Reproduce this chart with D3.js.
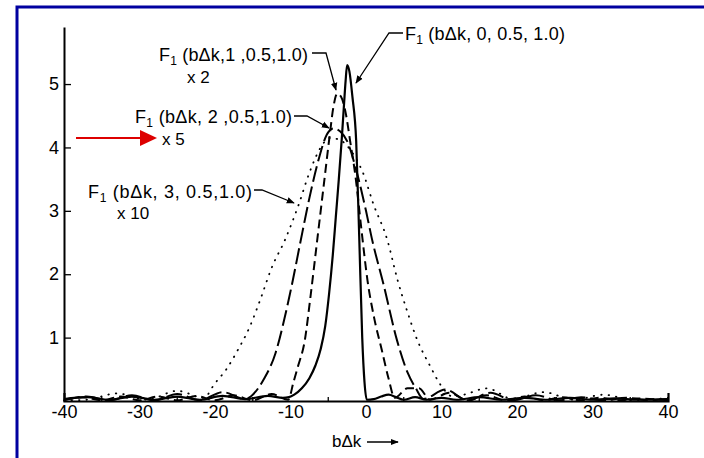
<!DOCTYPE html>
<html>
<head>
<meta charset="utf-8">
<script src="https://cdn.jsdelivr.net/npm/d3@7"></script>
<style>
	body { margin: 0; background: #fff; }
	svg { display: block; }
	text { font-family: "Liberation Sans", Arial, sans-serif; fill: #000; }
</style>
</head>
<body>
<svg width="704" height="458"></svg>
<script>
// F1(bdk, sigma, 0.5, 1.0), [bdk, value]
var sigma0 = [[-40,0.03],[-37,0.06],[-34,0.02],[-31,0.07],[-28,0.02],[-25,0.07],[-22,0.02],[-19,0.08],[-16,0.03],[-13,0.08],[-11,0.05],[-10.2,0.06],[-9.5,0.1],[-8.5,0.2],[-7.5,0.36],[-6.7,0.56],[-6,0.82],[-5.4,1.18],[-4.9,1.68],[-4.4,2.3],[-4,2.9],[-3.6,3.5],[-3.2,4.15],[-2.9,4.7],[-2.7,5.05],[-2.5,5.3],[-2.2,5.2],[-1.8,4.8],[-1.3,4.1],[-0.9,2.6],[-0.5,1.0],[-0.2,0.3],[0.1,0.02],[1,0.03],[2,0.07],[3,0.1],[4,0.06],[5,0.02],[6.5,0.06],[8,0.02],[10,0.05],[12,0.02],[15,0.06],[18,0.02],[21,0.05],[24,0.02],[27,0.05],[30,0.02],[33,0.04],[36,0.02],[40,0.03]];
var sigma1 = [[-40,0.02],[-37.5,0.06],[-35,0.01],[-32.5,0.07],[-30,0.01],[-27.5,0.07],[-25,0.01],[-22.5,0.08],[-20,0.01],[-17.5,0.09],[-15,0.01],[-12.5,0.11],[-10.3,0.02],[-9.6,0.3],[-9,0.55],[-8.1,0.96],[-7.4,1.6],[-6.5,2.5],[-5.5,3.5],[-4.8,4.2],[-4.3,4.65],[-3.8,4.85],[-3.3,4.8],[-2.7,4.55],[-2.1,4.1],[-1.4,3.55],[-0.6,2.7],[0.2,1.9],[1.1,1.3],[2.1,0.8],[3,0.35],[3.8,0.05],[5.5,0.2],[7,0.2],[8.5,0.02],[11,0.13],[13.5,0.01],[16,0.09],[18.5,0.01],[21,0.07],[23.5,0.01],[26,0.06],[28.5,0.01],[31,0.05],[33.5,0.01],[36,0.04],[40,0.01]];
var sigma2 = [[-40,0.01],[-37,0.07],[-34,0.01],[-31,0.09],[-28,0.01],[-25,0.11],[-22,0.01],[-19,0.14],[-16,0.03],[-15,0.1],[-13.5,0.35],[-12,0.75],[-10.8,1.3],[-9.7,1.9],[-8.7,2.5],[-7.5,3.2],[-6.3,3.8],[-5.2,4.2],[-4.3,4.3],[-3.4,4.25],[-2.5,4.1],[-1.2,3.6],[0,3.0],[0.8,2.55],[2.3,1.85],[4.1,0.96],[5.5,0.45],[6.6,0.2],[7.6,0.03],[10.5,0.18],[13.5,0.01],[16.5,0.13],[19.5,0.01],[22.5,0.09],[25.5,0.01],[28.5,0.06],[31.5,0.01],[34.5,0.05],[37.5,0.01],[40,0.03]];
var sigma3 = [[-40,0.01],[-37,0.02],[-33,0.12],[-29,0.02],[-25,0.16],[-21.5,0.05],[-20,0.28],[-18.5,0.5],[-17,0.8],[-15.4,1.17],[-14,1.6],[-12.5,2.1],[-10.7,2.55],[-9,3.07],[-7.5,3.6],[-6,4.0],[-4.8,4.15],[-3.5,4.12],[-2,3.95],[-0.4,3.6],[1,3.1],[2.8,2.55],[4.2,1.9],[5.5,1.4],[6.8,0.96],[8.5,0.55],[9.9,0.25],[11.5,0.07],[13,0.1],[16,0.2],[19.5,0.03],[23.5,0.14],[27.5,0.02],[31.5,0.1],[35.5,0.01],[40,0.05]];

var xTicks = [-40, -30, -20, -10, 0, 10, 20, 30, 40];
var xMinor = [-35, -25, -15, -5, 5, 15, 25, 35, 40];
var yTicks = [1, 2, 3, 4, 5];

var series = [
	{ name: 'sigma3', data: sigma3, dash: '0.5,7', width: 1.8 },
	{ name: 'sigma2', data: sigma2, dash: '16,5', width: 2 },
	{ name: 'sigma1', data: sigma1, dash: '9,5', width: 2 },
	{ name: 'sigma0', data: sigma0, dash: null, width: 2.2 }
];

var svg = d3.select('svg');

// Blue frame (only left and top visible)
svg.append('path')
	.attr('d', 'M17,458 V7 H704')
	.attr('fill', 'none')
	.attr('stroke', '#0000a0')
	.attr('stroke-width', 3);

var x = d3.scaleLinear().domain([-40, 40]).range([64, 668]);
var y = d3.scaleLinear().domain([0, 5.9]).range([401, 27]);

// Y axis, ticks pointing into the plot
var yAxis = svg.append('g')
	.attr('transform', 'translate(' + x(-40) + ',0)')
	.call(d3.axisLeft(y).tickValues(yTicks).tickFormat(d => String(d)).tickSizeInner(-7).tickSizeOuter(0).tickPadding(5));
yAxis.select('.domain').attr('stroke-width', 2);
yAxis.selectAll('.tick line').attr('stroke-width', 1.3);
yAxis.selectAll('text').style('font-size', '18px');

// X axis with labels
var xAxis = svg.append('g')
	.attr('transform', 'translate(0,' + y(0) + ')')
	.call(d3.axisBottom(x).tickValues(xTicks).tickFormat(d => String(d)).tickSizeInner(0).tickSizeOuter(-8).tickPadding(4));
xAxis.select('.domain').attr('stroke-width', 2.2);
xAxis.selectAll('text').style('font-size', '18px');

// small upward ticks on the base line
svg.append('g')
	.attr('transform', 'translate(0,' + y(0) + ')')
	.selectAll('line')
	.data(xMinor)
	.enter().append('line')
	.attr('x1', d => x(d))
	.attr('x2', d => x(d))
	.attr('y1', 0)
	.attr('y2', -4)
	.attr('stroke', '#000')
	.attr('stroke-width', 1.3);

// Curves
var line = d3.line()
	.x(d => x(d[0]))
	.y(d => y(d[1]))
	.curve(d3.curveMonotoneX);

svg.selectAll('.curve')
	.data(series)
	.enter().append('path')
	.attr('class', 'curve')
	.attr('d', d => line(d.data))
	.attr('fill', 'none')
	.attr('stroke', '#000')
	.attr('stroke-width', d => d.width)
	.attr('stroke-linecap', d => d.dash && d.dash.startsWith('0.5') ? 'round' : 'butt')
	.attr('stroke-dasharray', d => d.dash);

// Arrow heads
var defs = svg.append('defs');
defs.append('marker')
	.attr('id', 'head')
	.attr('viewBox', '0 0 10 10')
	.attr('refX', 9)
	.attr('refY', 5)
	.attr('markerWidth', 8)
	.attr('markerHeight', 8)
	.attr('markerUnits', 'userSpaceOnUse')
	.attr('orient', 'auto')
	.append('path')
	.attr('d', 'M0,1 L10,5 L0,9 Z')
	.attr('fill', '#000');

// Labels and leaders
var labels = [
	{ rest: '(bΔk, 0, 0.5, 1.0)', tx: 405, ty: 40, len: 160, mult: null, leader: 'M403,33 H389 L356,83' },
	{ rest: '(bΔk,1 ,0.5,1.0)', tx: 159, ty: 61, len: 149, mult: 'x 2', mx: 187, my: 83, leader: 'M312,53 H326 L336,90' },
	{ rest: '(bΔk, 2 ,0.5,1.0)', tx: 135, ty: 123, len: 157, mult: 'x 5', mx: 162, my: 145, leader: 'M294,116 H307 L329,128' },
	{ rest: '(bΔk, 3, 0.5,1.0)', tx: 88, ty: 198, len: 164, mult: 'x 10', mx: 117, my: 219, leader: 'M254,190 H262 L294,203' }
];

labels.forEach(function(l)
{
	var t = svg.append('text')
		.attr('x', l.tx)
		.attr('y', l.ty)
		.attr('textLength', l.len)
		.attr('lengthAdjust', 'spacing')
		.style('font-size', '18px');
	t.append('tspan').text('F');
	t.append('tspan').attr('dy', 4).style('font-size', '12px').text('1');
	t.append('tspan').attr('dy', -4).text(' ' + l.rest);
	if (l.mult)
		svg.append('text')
			.attr('x', l.mx)
			.attr('y', l.my)
			.style('font-size', '17px')
			.text(l.mult);
	svg.append('path')
		.attr('d', l.leader)
		.attr('fill', 'none')
		.attr('stroke', '#000')
		.attr('stroke-width', 1.3)
		.attr('marker-end', 'url(#head)');
});

// Red arrow
svg.append('line')
	.attr('x1', 76).attr('x2', 142)
	.attr('y1', 138).attr('y2', 138)
	.attr('stroke', '#dd0000')
	.attr('stroke-width', 2);
svg.append('path')
	.attr('d', 'M140,130 L157,138 L140,146 Z')
	.attr('fill', '#dd0000');

// Axis title
svg.append('text')
	.attr('x', 332)
	.attr('y', 447)
	.style('font-size', '17px')
	.text('bΔk');
svg.append('path')
	.attr('d', 'M367,442 H398')
	.attr('stroke', '#000')
	.attr('stroke-width', 1.5)
	.attr('marker-end', 'url(#head)');
</script>
</body>
</html>
